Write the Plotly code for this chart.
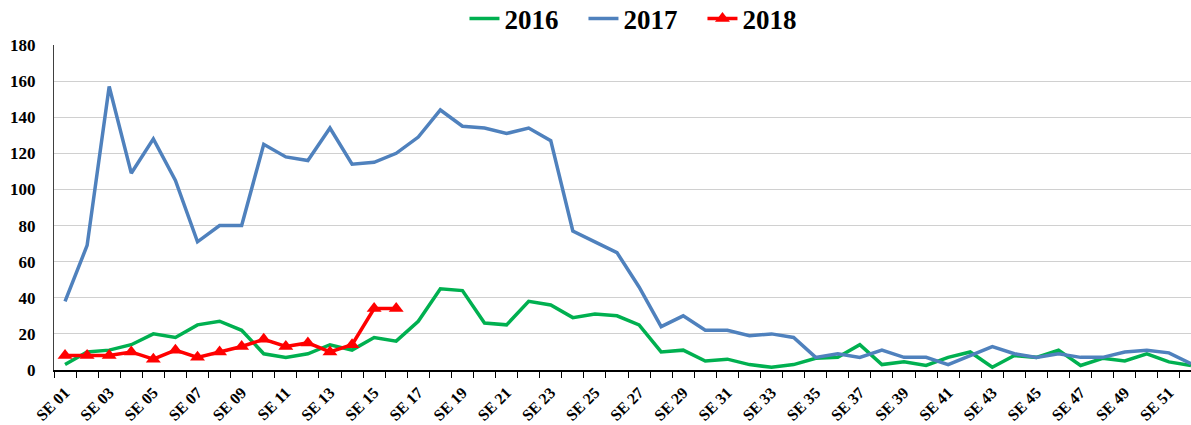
import plotly.graph_objects as go

weeks = ["SE %02d" % i for i in range(1, 53)]

y2016 = [3, 10, 11, 14, 20, 18, 25, 27, 22, 9, 7, 9, 14, 11, 18, 16,
         27, 45, 44, 26, 25, 38, 36, 29, 31, 30, 25, 10, 11, 5, 6, 3,
         1.5, 3, 6.5, 7, 14, 3, 4.5, 2.5, 7, 10, 1.5, 8, 7, 11, 2.5, 6.5,
         5, 9, 4.5, 2.5]
y2017 = [38, 69, 157, 109, 128, 105, 71, 80, 80, 125, 118, 116, 134, 114, 115, 120,
         129, 144, 135, 134, 131, 134, 127, 77, 71, 65, 46, 24, 30, 22, 22, 19,
         20, 18, 7, 9, 7, 11, 7, 7, 3, 8, 13, 9, 7, 9, 7, 7,
         10, 11, 9.5, 3.5]
y2018 = [8, 8, 8, 10, 6, 11, 7, 10, 13, 17, 13, 15, 10, 14, 34, 34]

xs = list(range(len(weeks)))
tickidx = xs[::2]
ticklab = [weeks[i] for i in tickidx]

FONT = "Liberation Serif, Times New Roman, serif"

fig = go.Figure()
fig.add_trace(go.Scatter(x=xs[:len(y2016)], y=y2016, name="2016", mode="lines",
                         line=dict(color="#00B050", width=3.5)))
fig.add_trace(go.Scatter(x=xs[:len(y2017)], y=y2017, name="2017", mode="lines",
                         line=dict(color="#4F81BD", width=3.5)))
fig.add_trace(go.Scatter(x=xs[:len(y2018)], y=y2018, name="2018", mode="lines+markers",
                         line=dict(color="#FF0000", width=3.5),
                         marker=dict(symbol="triangle-up", size=13, color="#FF0000")))

fig.update_layout(
    width=1191, height=425,
    margin=dict(l=54, r=0, t=45, b=55, autoexpand=False),
    paper_bgcolor="white", plot_bgcolor="white",
    font=dict(family=FONT, color="black"),
    legend=dict(orientation="h", x=0.518, xanchor="center", y=1.08, yanchor="middle",
                font=dict(family=FONT, size=27, color="black", weight="bold"),
                itemwidth=30, entrywidth=74, entrywidthmode="pixels",
                bgcolor="rgba(0,0,0,0)"),
    showlegend=True,
    hovermode=False,
)
fig.update_xaxes(
    range=[-0.5, 51.0], automargin=False,
    tickmode="array", tickvals=tickidx, ticktext=ticklab,
    tickangle=-45, ticks="", ticklabelstandoff=5,
    tickfont=dict(family=FONT, size=16, color="black", weight="bold"),
    showgrid=False, zeroline=False,
    showline=True, linecolor="black", linewidth=2,
    minor=dict(tick0=-0.5, dtick=1, ticks="outside", ticklen=6, tickwidth=1,
               tickcolor="black", showgrid=False),
)
fig.update_yaxes(
    range=[0, 180], dtick=20, tick0=0, automargin=False,
    tickfont=dict(family=FONT, size=17, color="black", weight="bold"),
    showgrid=True, gridcolor="#D0D0D0", gridwidth=1,
    zeroline=False, showline=True, linecolor="#404040", linewidth=1,
    ticks="", ticklabelstandoff=14,
)

fig.write_html("out.html", config={"displayModeBar": False},
               post_script="document.body.style.margin='0';document.body.style.overflow='hidden';")
